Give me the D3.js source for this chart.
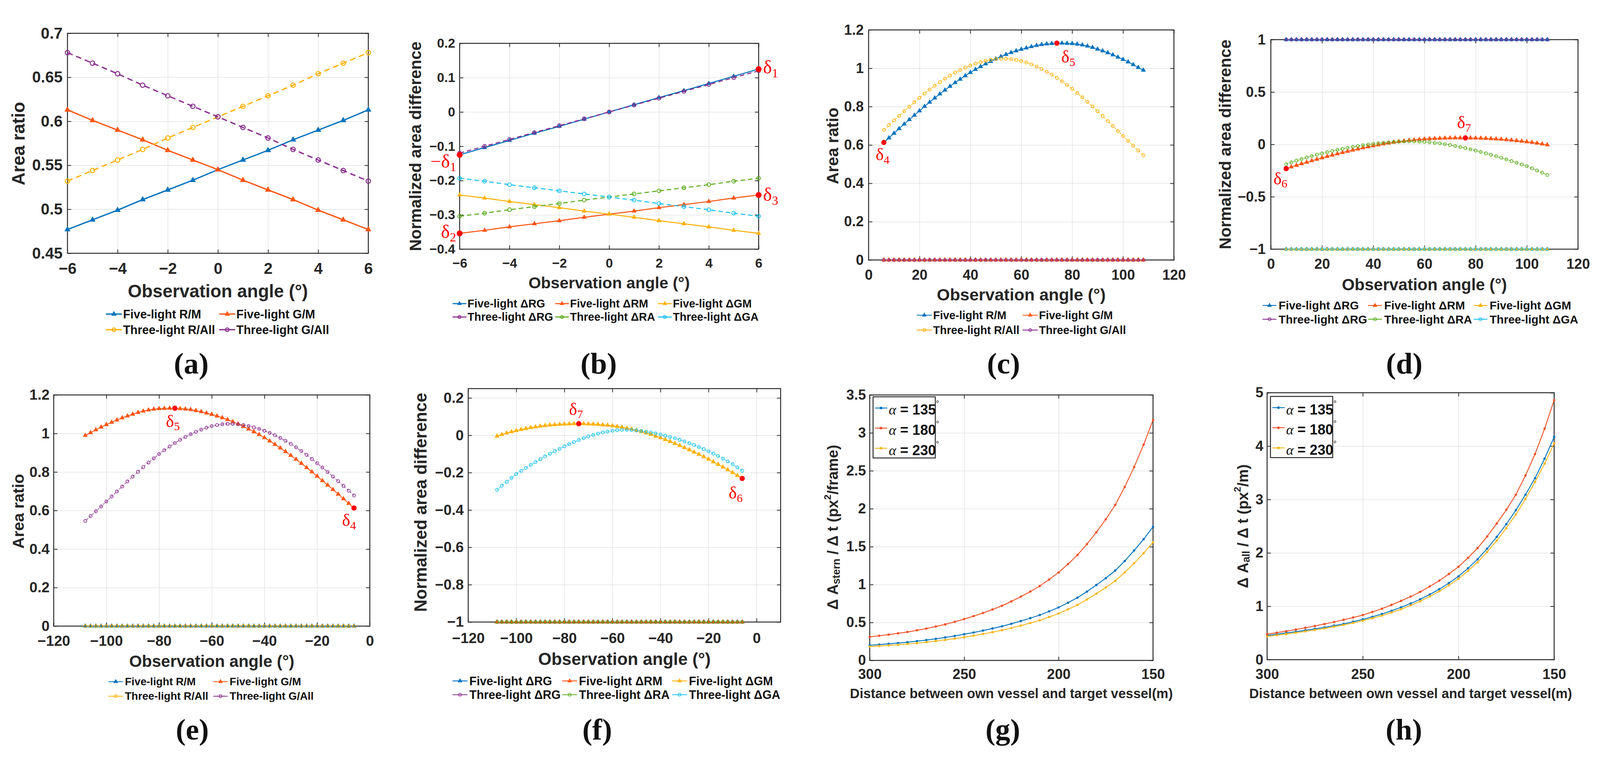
<!DOCTYPE html>
<html>
<head>
<meta charset="utf-8">
<title>area ratio figure</title>
<script src="https://cdn.jsdelivr.net/npm/d3@7"></script>
<style>
  html, body { margin: 0; padding: 0; overflow: hidden; background: #fff; }
  svg { display: block; }
</style>
</head>
<body>
<script>
// ---- data ----
var anglesSmall = [-6, -5, -4, -3, -2, -1, 0, 1, 2, 3, 4, 5, 6];

// (a) area ratios, small angle range
var aFiveRM   = [0.477, 0.488, 0.499, 0.511, 0.522, 0.533, 0.545, 0.556, 0.567, 0.579, 0.590, 0.601, 0.613];
var aFiveGM   = [0.613, 0.601, 0.590, 0.579, 0.567, 0.556, 0.545, 0.533, 0.522, 0.511, 0.499, 0.488, 0.477];
var aThreeRA  = [0.532, 0.544, 0.556, 0.568, 0.581, 0.593, 0.605, 0.617, 0.629, 0.641, 0.654, 0.666, 0.678];
var aThreeGA  = [0.678, 0.666, 0.654, 0.641, 0.629, 0.617, 0.605, 0.593, 0.581, 0.568, 0.556, 0.544, 0.532];

// (b) normalized area differences, small angle range
var bFiveRG   = [-0.125, -0.104, -0.083, -0.062, -0.042, -0.021, 0, 0.021, 0.042, 0.062, 0.083, 0.104, 0.125];
var bFiveRM   = [-0.354, -0.345, -0.335, -0.326, -0.317, -0.307, -0.298, -0.289, -0.279, -0.270, -0.261, -0.251, -0.242];
var bFiveGM   = [-0.242, -0.251, -0.261, -0.270, -0.279, -0.289, -0.298, -0.307, -0.317, -0.326, -0.335, -0.345, -0.354];
var bThreeRG  = [-0.120, -0.100, -0.080, -0.060, -0.040, -0.020, 0, 0.020, 0.040, 0.060, 0.080, 0.100, 0.120];
var bThreeRA  = [-0.304, -0.295, -0.285, -0.276, -0.267, -0.257, -0.248, -0.239, -0.230, -0.221, -0.212, -0.202, -0.193];
var bThreeGA  = [-0.193, -0.202, -0.212, -0.221, -0.230, -0.239, -0.248, -0.257, -0.267, -0.276, -0.285, -0.295, -0.304];

// wide angle range (c)-(f)
var anglesWide = [6, 8, 10, 12, 14, 16, 18, 20, 22, 24, 26, 28, 30, 32, 34, 36, 38, 40, 42, 44, 46, 48, 50, 52, 54,
  56, 58, 60, 62, 64, 66, 68, 70, 72, 74, 76, 78, 80, 82, 84, 86, 88, 90, 92, 94, 96, 98, 100, 102, 104, 106, 108];
var anglesWideNeg = anglesWide.map(function(v) { return -v; });

// five-light main-light ratio (R/M in (c), G/M in (e))
var wideFiveRatio = [0.613, 0.637, 0.661, 0.685, 0.709, 0.732, 0.755, 0.778, 0.801, 0.823, 0.845, 0.866, 0.886,
  0.906, 0.925, 0.943, 0.961, 0.978, 0.994, 1.009, 1.023, 1.036, 1.049, 1.061, 1.072, 1.082, 1.091, 1.099, 1.106,
  1.113, 1.119, 1.124, 1.127, 1.129, 1.131, 1.131, 1.130, 1.129, 1.126, 1.122, 1.116, 1.109, 1.100, 1.091, 1.081,
  1.070, 1.058, 1.046, 1.033, 1.019, 1.004, 0.990];
// three-light ratio (R/All in (c), G/All in (e))
var wideThreeRatio = [0.678, 0.703, 0.728, 0.752, 0.776, 0.800, 0.823, 0.846, 0.868, 0.889, 0.909, 0.928, 0.946,
  0.962, 0.977, 0.991, 1.003, 1.014, 1.024, 1.032, 1.039, 1.044, 1.048, 1.050, 1.050, 1.048, 1.044, 1.038, 1.030,
  1.020, 1.009, 0.996, 0.982, 0.967, 0.950, 0.932, 0.913, 0.893, 0.871, 0.849, 0.825, 0.801, 0.776, 0.751, 0.725,
  0.699, 0.673, 0.647, 0.621, 0.596, 0.571, 0.546];
// five-light difference (ΔRM in (d), ΔGM in (f))
var wideFiveDiff = [-0.231, -0.215, -0.200, -0.185, -0.170, -0.156, -0.142, -0.128, -0.115, -0.102, -0.090, -0.078,
  -0.066, -0.055, -0.044, -0.033, -0.023, -0.013, -0.004, 0.005, 0.013, 0.020, 0.027, 0.033, 0.038, 0.043, 0.047,
  0.051, 0.054, 0.056, 0.058, 0.060, 0.061, 0.062, 0.062, 0.062, 0.061, 0.060, 0.059, 0.057, 0.055, 0.052, 0.049,
  0.045, 0.041, 0.036, 0.031, 0.025, 0.019, 0.012, 0.004, -0.004];
// three-light difference (ΔRA in (d), ΔGA in (f))
var wideThreeDiff = [-0.190, -0.172, -0.155, -0.140, -0.125, -0.111, -0.098, -0.086, -0.074, -0.063, -0.052, -0.042,
  -0.033, -0.024, -0.016, -0.009, -0.002, 0.004, 0.010, 0.015, 0.019, 0.023, 0.026, 0.028, 0.029, 0.029, 0.027,
  0.024, 0.020, 0.015, 0.009, 0.002, -0.006, -0.015, -0.025, -0.036, -0.047, -0.059, -0.072, -0.085, -0.099, -0.113,
  -0.128, -0.143, -0.159, -0.175, -0.191, -0.207, -0.228, -0.249, -0.270, -0.292];
// flat series (light not visible at all)
function flat(v) { return anglesWide.map(function() { return v; }); }

// (g), (h) distance curves
var distances = [300, 295, 290, 285, 280, 275, 270, 265, 260, 255, 250, 245, 240, 235, 230, 225, 220, 215, 210, 205,
  200, 195, 190, 185, 180, 175, 170, 165, 160, 155, 150];
var gStern135 = [0.200, 0.209, 0.219, 0.229, 0.240, 0.254, 0.268, 0.285, 0.303, 0.323, 0.345, 0.368, 0.393, 0.421,
  0.450, 0.483, 0.519, 0.557, 0.598, 0.647, 0.699, 0.760, 0.827, 0.907, 0.994, 1.085, 1.185, 1.310, 1.449, 1.597, 1.761];
var gStern180 = [0.310, 0.325, 0.340, 0.357, 0.375, 0.397, 0.420, 0.447, 0.475, 0.509, 0.545, 0.584, 0.625, 0.671,
  0.720, 0.778, 0.840, 0.907, 0.980, 1.066, 1.160, 1.270, 1.390, 1.533, 1.690, 1.861, 2.050, 2.286, 2.550, 2.843, 3.170];
var gStern230 = [0.182, 0.190, 0.198, 0.207, 0.216, 0.228, 0.240, 0.255, 0.270, 0.287, 0.305, 0.326, 0.348, 0.372,
  0.398, 0.427, 0.459, 0.493, 0.529, 0.572, 0.619, 0.673, 0.732, 0.803, 0.880, 0.961, 1.049, 1.160, 1.282, 1.413, 1.558];
var hAll135 = [0.455, 0.477, 0.500, 0.524, 0.550, 0.577, 0.605, 0.637, 0.670, 0.711, 0.755, 0.803, 0.855, 0.915,
  0.980, 1.052, 1.130, 1.221, 1.320, 1.435, 1.560, 1.712, 1.880, 2.079, 2.300, 2.538, 2.800, 3.090, 3.400, 3.765, 4.170];
var hAll180 = [0.478, 0.505, 0.534, 0.565, 0.597, 0.631, 0.668, 0.706, 0.747, 0.790, 0.835, 0.893, 0.955, 1.025,
  1.100, 1.182, 1.270, 1.371, 1.480, 1.605, 1.740, 1.907, 2.090, 2.309, 2.550, 2.807, 3.090, 3.449, 3.850, 4.326, 4.860];
var hAll230 = [0.435, 0.457, 0.480, 0.504, 0.530, 0.557, 0.585, 0.617, 0.650, 0.689, 0.730, 0.776, 0.825, 0.883,
  0.945, 1.017, 1.095, 1.184, 1.280, 1.393, 1.515, 1.663, 1.825, 2.017, 2.230, 2.463, 2.720, 3.010, 3.330, 3.672, 4.050];

// tick values
var ticksSmallX = [-6, -4, -2, 0, 2, 4, 6];
var ticksA_Y = [0.45, 0.5, 0.55, 0.6, 0.65, 0.7];
var ticksB_Y = [-0.4, -0.3, -0.2, -0.1, 0, 0.1, 0.2];
var ticksPosX = [0, 20, 40, 60, 80, 100, 120];
var ticksNegX = [-120, -100, -80, -60, -40, -20, 0];
var ticksRatioY = [0, 0.2, 0.4, 0.6, 0.8, 1, 1.2];
var ticksD_Y = [-1, -0.5, 0, 0.5, 1];
var ticksF_Y = [-1, -0.8, -0.6, -0.4, -0.2, 0, 0.2];
var ticksDistX = [300, 250, 200, 150];
var ticksG_Y = [0, 0.5, 1, 1.5, 2, 2.5, 3, 3.5];
var ticksH_Y = [0, 1, 2, 3, 4, 5];

// ---- drawing ----
var SANS = "'Liberation Sans', Arial, sans-serif";
var SERIF = "'Liberation Serif', 'Times New Roman', serif";
var INK = "#262626";
var col = { blue: "#0072BD", orange: "#FF5512", yellow: "#FFB10A", purple: "#892D8E", green: "#5BAD1E", cyan: "#1AC1F0" };
var colDist = { c135: "#0072BD", c180: "#EE5228", c230: "#F6B51C" };

// the figure is laid out on a 4292 x 1976 grid and scaled to whatever window it gets
var svg = d3.select("body").append("svg")
  .attr("viewBox", "0 0 4292 1976")
  .attr("preserveAspectRatio", "xMidYMid meet")
  .style("width", "100vw").style("height", "100vh");
svg.append("rect").attr("width", 4292).attr("height", 1976).attr("fill", "#fff");

function fmt(v) { return String(+v.toFixed(3)).replace("-", "\u2212"); }

function markerD(type, s) {
  if (type === "tri") return d3.symbol(d3.symbolTriangle, s * s * 0.433)();
  return d3.symbol(d3.symbolCircle, Math.PI * s * s)();
}
function styleMarker(sel, type, color, cw) {
  if (type === "circ") sel.attr("fill", "none").attr("stroke", color).attr("stroke-width", cw);
  else sel.attr("fill", color).attr("stroke", color).attr("stroke-width", 1);
}

function panel(p) {
  var w = p.box[2] - p.box[0], h = p.box[3] - p.box[1];
  var g = svg.append("g").attr("transform", "translate(" + p.box[0] + "," + p.box[1] + ")");
  var x = d3.scaleLinear().domain(p.xd).range([0, w]);
  var y = d3.scaleLinear().domain(p.yd).range([h, 0]);

  // grid
  g.append("g").attr("class", "grid").attr("transform", "translate(0," + h + ")")
    .call(d3.axisBottom(x).tickValues(p.xt).tickSize(-h).tickFormat(""));
  g.append("g").attr("class", "grid")
    .call(d3.axisLeft(y).tickValues(p.yt).tickSize(-w).tickFormat(""));
  g.selectAll(".grid .domain").remove();
  g.selectAll(".grid line").attr("stroke", "#e3e3e3").attr("stroke-width", 1.6);

  // box + ticks
  g.append("rect").attr("width", w).attr("height", h).attr("fill", "none")
    .attr("stroke", INK).attr("stroke-width", 2.5);
  var xPad = (p.xBase - p.box[3]) - 0.71 * p.fs;
  var yPad = p.box[0] - p.yEdge;
  var axes = [
    g.append("g").attr("transform", "translate(0," + h + ")")
      .call(d3.axisBottom(x).tickValues(p.xt).tickSize(-10).tickPadding(xPad).tickFormat(fmt)),
    g.append("g").call(d3.axisTop(x).tickValues(p.xt).tickSize(-10).tickFormat("")),
    g.append("g").call(d3.axisLeft(y).tickValues(p.yt).tickSize(-10).tickPadding(yPad).tickFormat(fmt)),
    g.append("g").attr("transform", "translate(" + w + ",0)")
      .call(d3.axisRight(y).tickValues(p.yt).tickSize(-10).tickFormat(""))
  ];
  axes.forEach(function(a) {
    a.select(".domain").remove();
    a.selectAll("line").attr("stroke", INK).attr("stroke-width", 2);
    a.selectAll("text").attr("font-family", SANS).attr("font-weight", "bold")
      .attr("font-size", p.fs).attr("fill", INK);
  });

  // series
  var line = d3.line().x(function(d) { return x(d[0]); }).y(function(d) { return y(d[1]); });
  p.series.forEach(function(s) {
    var pts = s.x.map(function(v, i) { return [v, s.y[i]]; });
    g.append("path").datum(pts).attr("d", line).attr("fill", "none")
      .attr("stroke", s.color).attr("stroke-width", s.dash ? p.lwd : p.lw)
      .attr("stroke-dasharray", s.dash ? p.dash : null);
    if (s.mk === "dot") {
      g.selectAll(null).data(pts).enter().append("circle")
        .attr("cx", function(d) { return x(d[0]); }).attr("cy", function(d) { return y(d[1]); })
        .attr("r", p.ms).attr("fill", s.color);
    } else {
      g.selectAll(null).data(pts).enter().append("path")
        .attr("transform", function(d) { return "translate(" + x(d[0]) + "," + y(d[1]) + ")"; })
        .attr("d", markerD(s.mk, s.mk === "tri" ? p.ms : p.cr))
        .call(styleMarker, s.mk, s.color, p.cw);
    }
  });

  // red delta marks
  (p.notes || []).forEach(function(n) {
    var v = n.s.y[n.s.x.indexOf(n.at)];
    var px = x(n.at), py = y(v);
    g.append("circle").attr("cx", px).attr("cy", py).attr("r", p.dotR).attr("fill", "#FF0000");
    var t = g.append("text").attr("x", px + n.dx).attr("y", py + n.dy)
      .attr("font-family", SERIF).attr("fill", "#FF0000").attr("font-size", p.nfs);
    if (n.minus) t.append("tspan").text("\u2212");
    t.append("tspan").text("\u03b4");
    t.append("tspan").attr("font-size", p.nfs * 0.68).attr("dy", p.nfs * 0.2).text(n.sub);
  });

  // axis titles
  svg.append("text").attr("x", (p.box[0] + p.box[2]) / 2).attr("y", p.titleBase)
    .attr("text-anchor", "middle").attr("font-family", SANS).attr("font-weight", "bold")
    .attr("font-size", p.tfs).attr("fill", INK).text(p.xTitle);
  if (p.yTitle) {
    svg.append("text").attr("transform", "translate(" + p.yLab[0] + "," + p.yLab[1] + ") rotate(-90)")
      .attr("text-anchor", "middle").attr("dominant-baseline", "central")
      .attr("font-family", SANS).attr("font-weight", "bold")
      .attr("font-size", p.yfs).attr("fill", INK).text(p.yTitle);
  }

  // legend below the axes
  if (p.leg) {
    var L = p.leg;
    p.series.forEach(function(s, i) {
      var cx = L.cols[i % L.cols.length], cy = L.rows[Math.floor(i / L.cols.length)];
      var lg = svg.append("g");
      lg.append("line").attr("x1", cx).attr("x2", cx + L.len).attr("y1", cy).attr("y2", cy)
        .attr("stroke", s.color).attr("stroke-width", p.lw);
      lg.append("path").attr("transform", "translate(" + (cx + L.len / 2) + "," + cy + ")")
        .attr("d", markerD(s.mk, s.mk === "tri" ? L.ms : L.cr))
        .call(styleMarker, s.mk, s.color, p.cw);
      lg.append("text").attr("x", cx + L.off).attr("y", cy).attr("dominant-baseline", "central")
        .attr("font-family", SANS).attr("font-weight", "bold").attr("font-size", L.fs)
        .attr("fill", "#111").text(s.label);
    });
  }
  return { x: x, y: y, g: g };
}

function letter(t, cx, base) {
  svg.append("text").attr("x", cx).attr("y", base).attr("text-anchor", "middle")
    .attr("font-family", SERIF).attr("font-weight", "bold").attr("font-size", 80)
    .attr("fill", "#111").text(t);
}

var OBS = "Observation angle (\u00b0)";
var DIST = "Distance between own vessel and target vessel(m)";

// (a)
var sA = [
  { label: "Five-light R/M", x: anglesSmall, y: aFiveRM, color: col.blue, mk: "tri" },
  { label: "Five-light G/M", x: anglesSmall, y: aFiveGM, color: col.orange, mk: "tri" },
  { label: "Three-light R/All", x: anglesSmall, y: aThreeRA, color: col.yellow, mk: "circ", dash: true },
  { label: "Three-light G/All", x: anglesSmall, y: aThreeGA, color: col.purple, mk: "circ", dash: true }
];
panel({ box: [181, 42, 988, 632], xd: [-6, 6], yd: [0.45, 0.7], xt: ticksSmallX, yt: ticksA_Y,
  fs: 42, xBase: 687, yEdge: 168, xTitle: OBS, tfs: 48, titleBase: 750,
  yTitle: "Area ratio", yfs: 48, yLab: [50, 338],
  lw: 3.5, lwd: 3.5, dash: "15,10", ms: 15, cr: 6, cw: 2.6,
  series: sA, leg: { cols: [284, 588], rows: [795, 837], len: 43, off: 46, fs: 32, ms: 13, cr: 5 } });

// (b)
var sB = [
  { label: "Five-light \u0394RG", x: anglesSmall, y: bFiveRG, color: col.blue, mk: "tri" },
  { label: "Five-light \u0394RM", x: anglesSmall, y: bFiveRM, color: col.orange, mk: "tri" },
  { label: "Five-light \u0394GM", x: anglesSmall, y: bFiveGM, color: col.yellow, mk: "tri" },
  { label: "Three-light \u0394RG", x: anglesSmall, y: bThreeRG, color: col.purple, mk: "circ", dash: true },
  { label: "Three-light \u0394RA", x: anglesSmall, y: bThreeRA, color: col.green, mk: "circ", dash: true },
  { label: "Three-light \u0394GA", x: anglesSmall, y: bThreeGA, color: col.cyan, mk: "circ", dash: true }
];
panel({ box: [1233, 69, 2035, 621], xd: [-6, 6], yd: [-0.4, 0.2], xt: ticksSmallX, yt: ticksB_Y,
  fs: 35, xBase: 670, yEdge: 1221, xTitle: OBS, tfs: 43, titleBase: 726,
  yTitle: "Normalized area difference", yfs: 44, yLab: [1114, 345],
  lw: 2.8, lwd: 2.8, dash: "12,8", ms: 12, cr: 5, cw: 2.2, dotR: 8, nfs: 50,
  series: sB, leg: { cols: [1214, 1489, 1765], rows: [767, 803], len: 37, off: 40, fs: 30, ms: 11, cr: 4 },
  notes: [
    { s: sB[0], at: 6, sub: "1", dx: 12, dy: 12 },
    { s: sB[0], at: -6, sub: "1", dx: -78, dy: 34, minus: true },
    { s: sB[1], at: -6, sub: "2", dx: -50, dy: 12 },
    { s: sB[1], at: 6, sub: "3", dx: 12, dy: 16 }
  ] });

// (c)
var sC = [
  { label: "Five-light R/M", x: anglesWide, y: wideFiveRatio, color: col.blue, mk: "tri" },
  { label: "Five-light G/M", x: anglesWide, y: flat(0), color: col.orange, mk: "tri" },
  { label: "Three-light R/All", x: anglesWide, y: wideThreeRatio, color: col.yellow, mk: "circ", dash: true },
  { label: "Three-light G/All", x: anglesWide, y: flat(0), color: col.purple, mk: "circ", dash: true }
];
panel({ box: [2330, 33, 3149, 650], xd: [0, 120], yd: [0, 1.2], xt: ticksPosX, yt: ticksRatioY,
  fs: 38, xBase: 703, yEdge: 2317, xTitle: OBS, tfs: 45, titleBase: 759,
  yTitle: "Area ratio", yfs: 44, yLab: [2234, 344],
  lw: 2.2, lwd: 1.6, dash: "6,4", ms: 12, cr: 4, cw: 1.8, dotR: 7, nfs: 46,
  series: sC, leg: { cols: [2459, 2743], rows: [798, 838], len: 41, off: 44, fs: 30, ms: 11, cr: 4 },
  notes: [
    { s: sC[0], at: 74, sub: "5", dx: 12, dy: 52 },
    { s: sC[0], at: 6, sub: "4", dx: -22, dy: 48 }
  ] });

// (d)
var sD = [
  { label: "Five-light \u0394RG", x: anglesWide, y: flat(1), color: col.blue, mk: "tri" },
  { label: "Five-light \u0394RM", x: anglesWide, y: wideFiveDiff, color: col.orange, mk: "tri" },
  { label: "Five-light \u0394GM", x: anglesWide, y: flat(-1), color: col.yellow, mk: "tri" },
  { label: "Three-light \u0394RG", x: anglesWide, y: flat(1), color: col.purple, mk: "circ", dash: true },
  { label: "Three-light \u0394RA", x: anglesWide, y: wideThreeDiff, color: col.green, mk: "circ", dash: true },
  { label: "Three-light \u0394GA", x: anglesWide, y: flat(-1), color: col.cyan, mk: "circ", dash: true }
];
panel({ box: [3409, 59, 4233, 621], xd: [0, 120], yd: [-1, 1], xt: ticksPosX, yt: ticksD_Y,
  fs: 38, xBase: 674, yEdge: 3395, xTitle: OBS, tfs: 44, titleBase: 731,
  yTitle: "Normalized area difference", yfs: 44, yLab: [3287, 340],
  lw: 2.2, lwd: 1.6, dash: "6,4", ms: 12, cr: 4, cw: 1.8, dotR: 7, nfs: 46,
  series: sD, leg: { cols: [3387, 3670, 3953], rows: [772, 809], len: 37, off: 43, fs: 31, ms: 11, cr: 4 },
  notes: [
    { s: sD[1], at: 76, sub: "7", dx: -22, dy: -26 },
    { s: sD[1], at: 6, sub: "6", dx: -34, dy: 42 }
  ] });

// (e)
var sE = [
  { label: "Five-light R/M", x: anglesWideNeg, y: flat(0), color: col.blue, mk: "tri" },
  { label: "Five-light G/M", x: anglesWideNeg, y: wideFiveRatio, color: col.orange, mk: "tri" },
  { label: "Three-light R/All", x: anglesWideNeg, y: flat(0), color: col.yellow, mk: "circ", dash: true },
  { label: "Three-light G/All", x: anglesWideNeg, y: wideThreeRatio, color: col.purple, mk: "circ", dash: true }
];
panel({ box: [144, 1012, 992, 1632], xd: [-120, 0], yd: [0, 1.2], xt: ticksNegX, yt: ticksRatioY,
  fs: 39, xBase: 1685, yEdge: 133, xTitle: OBS, tfs: 44, titleBase: 1741,
  yTitle: "Area ratio", yfs: 43, yLab: [49, 1324],
  lw: 2.2, lwd: 1.6, dash: "6,4", ms: 12, cr: 4, cw: 1.8, dotR: 7, nfs: 46,
  series: sE, leg: { cols: [291, 572], rows: [1781, 1820], len: 39, off: 44, fs: 29, ms: 11, cr: 4 },
  notes: [
    { s: sE[1], at: -74, sub: "5", dx: -24, dy: 50 },
    { s: sE[1], at: -6, sub: "4", dx: -32, dy: 48 }
  ] });

// (f)
var sF = [
  { label: "Five-light \u0394RG", x: anglesWideNeg, y: flat(-1), color: col.blue, mk: "tri" },
  { label: "Five-light \u0394RM", x: anglesWideNeg, y: flat(-1), color: col.orange, mk: "tri" },
  { label: "Five-light \u0394GM", x: anglesWideNeg, y: wideFiveDiff, color: col.yellow, mk: "tri" },
  { label: "Three-light \u0394RG", x: anglesWideNeg, y: flat(-1), color: col.purple, mk: "circ", dash: true },
  { label: "Three-light \u0394RA", x: anglesWideNeg, y: flat(-1), color: col.green, mk: "circ", dash: true },
  { label: "Three-light \u0394GA", x: anglesWideNeg, y: wideThreeDiff, color: col.cyan, mk: "circ", dash: true }
];
panel({ box: [1256, 995, 2094, 1621], xd: [-120, 10], yd: [-1, 0.25], xt: ticksNegX, yt: ticksF_Y,
  fs: 39, xBase: 1677, yEdge: 1244, xTitle: OBS, tfs: 46, titleBase: 1736,
  yTitle: "Normalized area difference", yfs: 46, yLab: [1128, 1300],
  lw: 2.2, lwd: 1.6, dash: "6,4", ms: 12, cr: 4, cw: 1.8, dotR: 7, nfs: 46,
  series: sF, leg: { cols: [1214, 1508, 1803], rows: [1779, 1816], len: 40, off: 45, fs: 32, ms: 11, cr: 4 },
  notes: [
    { s: sF[2], at: -74, sub: "7", dx: -26, dy: -24 },
    { s: sF[2], at: -6, sub: "6", dx: -36, dy: 54 }
  ] });

// (g), (h) distance panels
function distPanel(p) {
  var r = panel({ box: p.box, xd: [300, 150], yd: p.yd, xt: ticksDistX, yt: p.yt,
    fs: 38, xBase: 1774, yEdge: p.yEdge, xTitle: DIST, tfs: 36, titleBase: 1825,
    lw: 2.4, lwd: 2.4, ms: 3.2, cr: 3, cw: 1, series: p.series });
  // rotated y label with sub/superscripts
  var t = svg.append("text").attr("transform", "translate(" + p.yLab[0] + "," + p.yLab[1] + ") rotate(-90)")
    .attr("text-anchor", "middle").attr("dominant-baseline", "central")
    .attr("font-family", SANS).attr("font-weight", "bold").attr("font-size", 40).attr("fill", INK);
  t.append("tspan").text("\u0394 A");
  t.append("tspan").attr("font-size", 28).attr("dy", 10).text(p.sub);
  t.append("tspan").attr("dy", -10).text(" / \u0394 t (px");
  t.append("tspan").attr("font-size", 26).attr("dy", -14).text("2");
  t.append("tspan").attr("dy", 14).text(p.unit);
  // boxed legend
  var lg = svg.append("g").attr("transform", "translate(" + p.leg[0] + "," + p.leg[1] + ")");
  lg.append("rect").attr("width", 167).attr("height", 164).attr("fill", "#fff")
    .attr("stroke", INK).attr("stroke-width", 2.5);
  p.series.forEach(function(s, i) {
    var cy = 30 + i * 54;
    lg.append("line").attr("x1", 5).attr("x2", 38).attr("y1", cy).attr("y2", cy)
      .attr("stroke", s.color).attr("stroke-width", 2.4);
    lg.append("circle").attr("cx", 21.5).attr("cy", cy).attr("r", 3.5).attr("fill", s.color);
    var tx = lg.append("text").attr("x", 42).attr("y", cy + 18).attr("font-size", 38).attr("fill", "#111");
    tx.append("tspan").attr("font-family", SERIF).attr("font-style", "italic").text("\u03b1");
    tx.append("tspan").attr("font-family", SANS).attr("font-weight", "bold").text(" = " + s.label);
    tx.append("tspan").attr("font-family", SANS).attr("font-size", 22).attr("dy", -22).text("\u00b0");
  });
  return r;
}

distPanel({ box: [2333, 1012, 3093, 1724], yd: [0, 3.5], yt: ticksG_Y, yEdge: 2323,
  yLab: [2233, 1367], sub: "stern", unit: "/frame)", leg: [2342, 1017],
  series: [
    { label: "135", x: distances, y: gStern135, color: colDist.c135, mk: "dot" },
    { label: "180", x: distances, y: gStern180, color: colDist.c180, mk: "dot" },
    { label: "230", x: distances, y: gStern230, color: colDist.c230, mk: "dot" }
  ] });
distPanel({ box: [3399, 1006, 4169, 1722], yd: [0, 5], yt: ticksH_Y, yEdge: 3389,
  yLab: [3333, 1364], sub: "all", unit: "/m)", leg: [3408, 1016],
  series: [
    { label: "135", x: distances, y: hAll135, color: colDist.c135, mk: "dot" },
    { label: "180", x: distances, y: hAll180, color: colDist.c180, mk: "dot" },
    { label: "230", x: distances, y: hAll230, color: colDist.c230, mk: "dot" }
  ] });

// sub-figure letters
letter("(a)", 513, 955); letter("(b)", 1606, 955); letter("(c)", 2692, 955); letter("(d)", 3767, 955);
letter("(e)", 516, 1936); letter("(f)", 1602, 1936); letter("(g)", 2690, 1936); letter("(h)", 3766, 1936);
</script>
</body>
</html>
